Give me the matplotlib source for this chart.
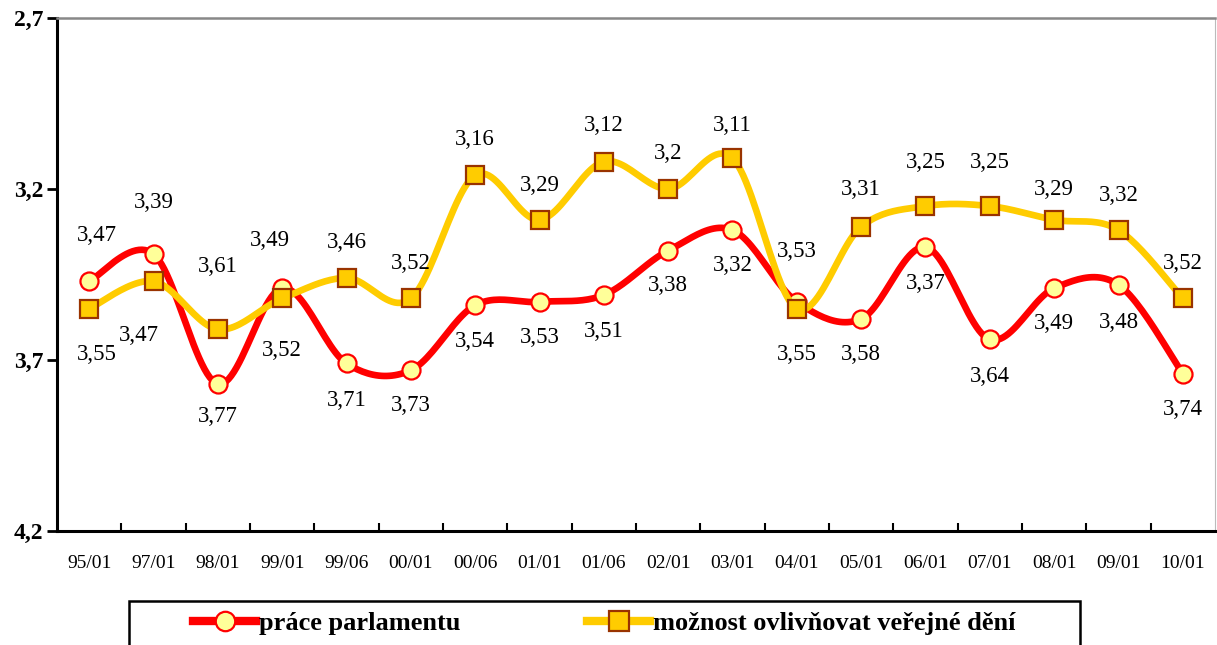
import numpy as np
import matplotlib.pyplot as plt
from matplotlib.ticker import FixedLocator
from matplotlib.patches import Rectangle

plt.rcParams['font.family'] = ['Liberation Serif', 'DejaVu Serif']

# survey rounds
labels = ['95/01', '97/01', '98/01', '99/01', '99/06', '00/01', '00/06', '01/01', '01/06',
          '02/01', '03/01', '04/01', '05/01', '06/01', '07/01', '08/01', '09/01', '10/01']

prace = [3.47, 3.39, 3.77, 3.49, 3.71, 3.73, 3.54, 3.53, 3.51,
         3.38, 3.32, 3.53, 3.58, 3.37, 3.64, 3.49, 3.48, 3.74]
moznost = [3.55, 3.47, 3.61, 3.52, 3.46, 3.52, 3.16, 3.29, 3.12,
           3.20, 3.11, 3.55, 3.31, 3.25, 3.25, 3.29, 3.32, 3.52]

# label offsets in pixels (negative = above the point)
off_prace = [-46, -51, 33, -48, 37, 35, 36, 36, 36, 35, 35, -50, 36, 36, 37, 35, 38, 36]
off_moznost = [46, 54, -63, 52, -35, -35, -36, -34, -36, -36, -33, 46, -37, -44, -44, -30, -35, -35]
dx_prace = [8, 0, 0, -12, 0, 0, 0, 0, 0, 0, 0, 0, 0, 0, 0, 0, 0, 0]
dx_moznost = [8, -15, 0, 0, 0, 0, 0, 0, 0, 0, 0, 0, 0, 0, 0, 0, 0, 0]


def smooth(vals, n=24):
    # excel-like smoothed line (bezier through points, catmull-rom control points)
    pts = np.column_stack([np.arange(len(vals), dtype=float), np.asarray(vals, float)])
    p = np.vstack([pts[0], pts, pts[-1]])
    t = np.linspace(0, 1, n, endpoint=False)[:, None]
    out = []
    for i in range(1, len(p) - 2):
        p0, p1, p2, p3 = p[i - 1], p[i], p[i + 1], p[i + 2]
        c1 = p1 + (p2 - p0) / 6
        c2 = p2 - (p3 - p1) / 6
        out.append((1 - t) ** 3 * p1 + 3 * (1 - t) ** 2 * t * c1 + 3 * (1 - t) * t ** 2 * c2 + t ** 3 * p2)
    out.append(pts[-1:])
    out = np.vstack(out)
    return out[:, 0], out[:, 1]


W, H = 1217, 645
fig = plt.figure(figsize=(W / 100, H / 100), dpi=100)
ax = fig.add_axes([57 / W, 114 / H, 1158 / W, 513 / H])

x = np.arange(len(labels))
lw = 4.8

sx, sy = smooth(prace)
ax.plot(sx, sy, color='#FF0000', lw=lw, solid_capstyle='round', zorder=2)
ax.plot(x, prace, 'o', ms=13, mfc='#FFFF99', mec='#FF0000', mew=1.6, zorder=3)

sx, sy = smooth(moznost)
ax.plot(sx, sy, color='#FFCC00', lw=lw, solid_capstyle='round', zorder=4)
ax.plot(x, moznost, 's', ms=13, mfc='#FFCC00', mec='#993300', mew=1.6, zorder=5)

for i in range(len(labels)):
    for v, off, dx in ((prace[i], off_prace[i], dx_prace[i]), (moznost[i], off_moznost[i], dx_moznost[i])):
        txt = ('%.2f' % v).rstrip('0').replace('.', ',')
        ax.annotate(txt, (i, v), xytext=(dx * 0.72, -off * 0.72), textcoords='offset points',
                    ha='center', va='center', fontsize=16.5, zorder=6)

ax.set_xlim(-0.5, len(labels) - 0.5)
ax.set_ylim(4.2, 2.7)

ax.set_yticks([2.7, 3.2, 3.7, 4.2])
ax.set_yticklabels(['2,7', '3,2', '3,7', '4,2'], fontsize=17, fontweight='bold')
ax.tick_params(axis='y', direction='out', length=7, width=2, pad=3)

ax.set_xticks(x)
ax.set_xticklabels(labels, fontsize=14)
ax.tick_params(axis='x', which='major', length=0, pad=17)
ax.xaxis.set_minor_locator(FixedLocator(np.arange(0.5, len(labels) - 1, 1)))
ax.tick_params(axis='x', which='minor', direction='in', length=6, width=1.5)

for s in ('left', 'bottom'):
    ax.spines[s].set_linewidth(2.2)
    ax.spines[s].set_color('black')
ax.spines['top'].set_color('#888888')
ax.spines['top'].set_linewidth(1.8)
ax.spines['right'].set_color('#bbbbbb')
ax.spines['right'].set_linewidth(0.8)

# legend: box runs off the bottom edge like in the original
fig.patches.append(Rectangle((129 / W, -0.05), (1080 - 129) / W, 0.05 + 1 - 601 / H,
                             transform=fig.transFigure, fill=False, ec='black', lw=1.8))
h1, = ax.plot([], [], color='#FF0000', lw=6, marker='o', ms=14, mfc='#FFFF99', mec='#FF0000', mew=1.6)
h2, = ax.plot([], [], color='#FFCC00', lw=6, marker='s', ms=14, mfc='#FFCC00', mec='#993300', mew=1.6)
leg = fig.legend([h1, h2], ['práce parlamentu', 'možnost ovlivňovat veřejné dění'],
                 loc='center left', bbox_to_anchor=(193 / W, 1 - 623 / H), ncol=2,
                 prop={'size': 19, 'weight': 'bold'}, handlelength=2.4, handletextpad=0.1,
                 columnspacing=4.8, borderpad=0, borderaxespad=0, frameon=False)

fig.savefig('out.png', dpi=100)
